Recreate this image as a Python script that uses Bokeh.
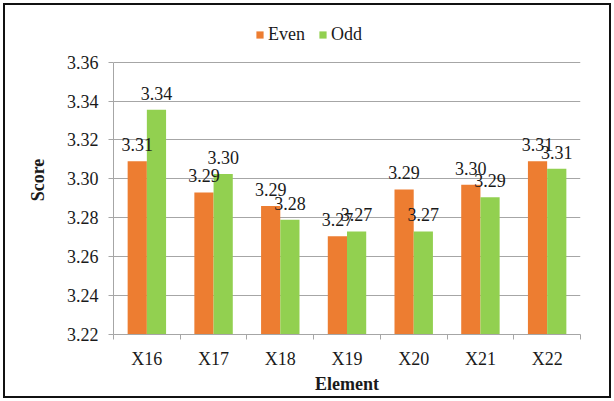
from bokeh.plotting import figure
from bokeh.models import (ColumnDataSource, Range1d, FixedTicker, Legend, LegendItem,
                          Title, NumeralTickFormatter)
from bokeh.core.properties import value
from bokeh.embed import file_html
from bokeh.resources import INLINE

# Scores per element, split by even / odd
elements = ["X16", "X17", "X18", "X19", "X20", "X21", "X22"]
even_scores = [3.309, 3.293, 3.286, 3.2705, 3.2945, 3.297, 3.309]
odd_scores = [3.3355, 3.3025, 3.279, 3.273, 3.273, 3.2905, 3.3052]
y_ticks = [3.22, 3.24, 3.26, 3.28, 3.30, 3.32, 3.34, 3.36]

FONT = "Liberation Serif"
TEXT = "#1a1a1a"
GRID = "#a6a6a6"
EVEN_COLOR = "#ed7d31"
ODD_COLOR = "#92d050"
FS = "18px"

# plot area: 275 px for the value axis plus 37 px of headroom for the legend
AXIS_PX = 275
HEADROOM_PX = 37
y_lo, y_hi = y_ticks[0], y_ticks[-1]
y_top = y_hi + (y_hi - y_lo) * HEADROOM_PX / AXIS_PX

n = len(elements)
bar_w = 0.288
centers = [i + 0.5 for i in range(n)]

even_src = ColumnDataSource(dict(
    x=[c - bar_w / 2 for c in centers], top=even_scores,
    label=[f"{v:.2f}" for v in even_scores]))
odd_src = ColumnDataSource(dict(
    x=[c + bar_w / 2 for c in centers], top=odd_scores,
    label=[f"{v:.2f}" for v in odd_scores]))

p = figure(width=604, height=391, output_backend="svg", toolbar_location=None,
           x_range=Range1d(0, n), y_range=Range1d(y_lo, y_top),
           min_border_left=108, min_border_right=29, min_border_top=20,
           min_border_bottom=59, outline_line_color=None,
           background_fill_color="white", border_fill_color="white")

r_even = p.vbar(x="x", top="top", bottom=y_lo, width=bar_w, source=even_src,
                fill_color=EVEN_COLOR, line_color=None)
r_odd = p.vbar(x="x", top="top", bottom=y_lo, width=bar_w, source=odd_src,
               fill_color=ODD_COLOR, line_color=None)

# value labels above each bar
for src in (even_src, odd_src):
    p.text(x="x", y="top", text="label", source=src, text_align="center",
           text_baseline="alphabetic", y_offset=-16.7,
           text_font=value(FONT), text_font_size=FS, text_color=TEXT)

# x axis: labels at category centres, ticks at category boundaries
xa = p.xaxis[0]
xa.ticker = FixedTicker(ticks=centers, minor_ticks=list(range(n + 1)))
xa.major_label_overrides = {c: e for c, e in zip(centers, elements)}
xa.major_tick_out = 0
xa.major_tick_in = 0
xa.minor_tick_out = 5
xa.minor_tick_in = 0
xa.minor_tick_line_color = GRID
xa.axis_line_color = GRID
xa.major_label_standoff = 9
xa.major_label_text_font = FONT
xa.major_label_text_font_size = FS
xa.major_label_text_color = TEXT
xa.axis_label = "Element"
xa.axis_label_text_font = FONT
xa.axis_label_text_font_size = FS
xa.axis_label_text_font_style = "bold"
xa.axis_label_text_color = TEXT
xa.axis_label_standoff = 2

ya = p.yaxis[0]
ya.ticker = FixedTicker(ticks=y_ticks)
ya.bounds = (y_lo, y_hi)
ya.formatter = NumeralTickFormatter(format="0.00")
ya.major_tick_out = 5
ya.major_tick_in = 0
ya.minor_tick_out = 0
ya.minor_tick_in = 0
ya.major_tick_line_color = GRID
ya.axis_line_color = GRID
ya.major_label_standoff = 10
ya.major_label_text_font = FONT
ya.major_label_text_font_size = FS
ya.major_label_text_color = TEXT

p.xgrid.grid_line_color = None
p.ygrid.ticker = ya.ticker
p.ygrid.grid_line_color = GRID

# y axis title
p.add_layout(Title(text="Score", align="center", offset=35.5, standoff=31,
                   text_font=FONT, text_font_size=FS, text_font_style="bold",
                   text_color=TEXT), "left")

legend = Legend(items=[LegendItem(label="Even", renderers=[r_even]),
                       LegendItem(label="Odd", renderers=[r_odd])],
                orientation="horizontal", location=(142, 289),
                glyph_width=9, glyph_height=9, label_standoff=4, spacing=13,
                padding=0, margin=0, border_line_color=None,
                background_fill_alpha=0, label_text_font=FONT,
                label_text_font_size=FS, label_text_color=TEXT)
p.add_layout(legend)

# frame drawn round the whole chart
p.margin = (5, 5, 5, 5)
p.styles = {"outline": "2.5px solid #111111"}

open("out.html", "w").write(file_html(p, INLINE))
